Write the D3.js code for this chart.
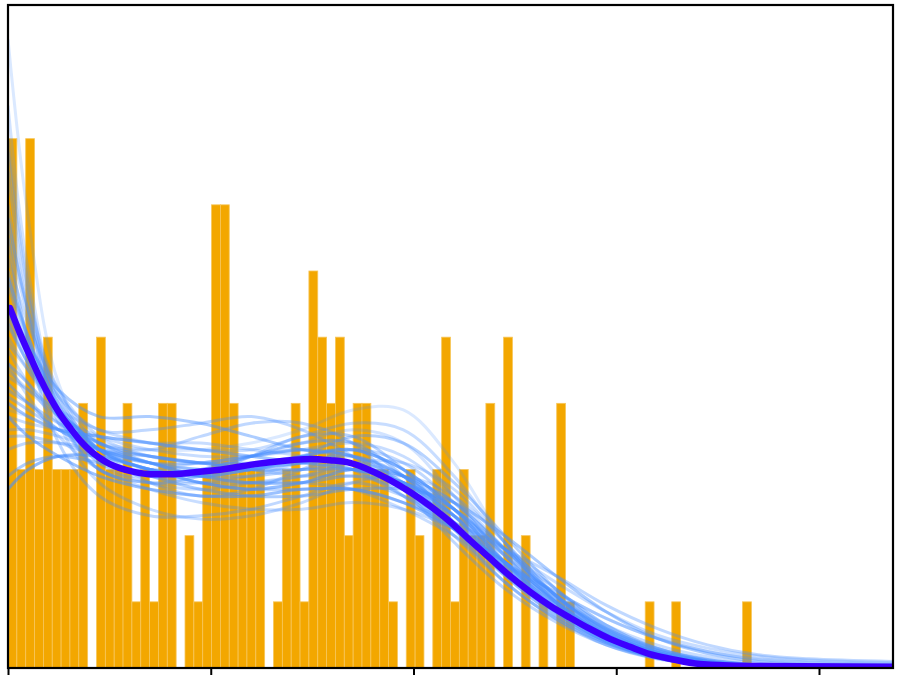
<!DOCTYPE html>
<html>
<head>
<meta charset="utf-8">
<script src="https://cdn.jsdelivr.net/npm/d3@7"></script>
<style>
  html, body { margin: 0; padding: 0; background: #fff; }
  svg { display: block; }
</style>
</head>
<body>
<svg id="chart" width="906" height="675"></svg>
<script>
// ---------------- DATA ----------------
const xDomain = [0, 4.365];
const yDomain = [0, 10.02];
const binWidth = 0.04365;
// histogram counts per bin (bins start at 0, width = binWidth)
const binCounts = [
  8,3,8,3,5,3,3,3,4,0,
  5,3,3,4,1,3,1,4,4,0,
  2,1,3,7,7,4,3,3,3,0,
  1,3,4,1,6,5,4,5,2,4,
  4,3,3,1,0,3,2,0,3,5,
  1,3,2,2,4,0,5,0,2,0,
  1,0,4,1,0,0,0,0,0,0,
  0,0,1,0,0,1,0,0,0,0,
  0,0,0,1
];
const xTicks = [0, 1, 2, 3, 4];

// main density curve (x, y in count units)
const mainX = [0.01,0.059,0.109,0.158,0.207,0.256,0.306,0.355,0.404,0.454,0.503,0.552,0.626,0.700,0.799,0.898,0.996,1.095,1.194,1.292,1.391,1.490,1.588,1.687,1.785,1.884,1.983,2.081,2.180,2.279,2.377,2.476,2.575,2.673,2.772,2.871,2.969,3.068,3.166,3.265,3.413,3.660,3.906,4.365];
const mainY = [5.44,5.06,4.71,4.38,4.09,3.84,3.63,3.44,3.29,3.17,3.08,3.02,2.96,2.93,2.93,2.95,2.98,3.02,3.07,3.11,3.14,3.16,3.14,3.10,2.99,2.84,2.66,2.45,2.21,1.93,1.66,1.39,1.15,0.94,0.76,0.59,0.44,0.32,0.21,0.14,0.06,0.03,0.025,0.02];

// bootstrap density curves, sampled on bootX
const bootX = [0, 0.1, 0.25, 0.45, 0.7, 0.95, 1.2, 1.45, 1.7, 1.95, 2.2, 2.45, 2.7, 2.95, 3.2, 3.45, 3.7, 3.95, 4.365];
const boot01 = [9.5,6.8,4.3,3.2,2.9,2.9,3.0,3.1,3.0,2.6,2.1,1.5,0.9,0.45,0.2,0.07,0.02,0.005,0];
const boot02 = [8.5,6.0,4.0,3.1,3.0,3.1,3.2,3.3,3.1,2.6,2.0,1.4,0.85,0.4,0.17,0.06,0.02,0.005,0];
const boot03 = [7.5,5.6,4.2,3.4,3.1,3.0,3.0,3.1,3.2,2.9,2.3,1.55,0.9,0.45,0.2,0.07,0.02,0.006,0];
const boot04 = [6.8,5.4,4.1,3.3,3.0,3.0,3.2,3.4,3.4,2.9,2.1,1.3,0.75,0.35,0.14,0.05,0.015,0.004,0];
const boot05 = [6.2,5.2,4.2,3.5,3.2,3.1,3.0,3.0,3.0,2.8,2.3,1.6,1.0,0.5,0.22,0.08,0.03,0.01,0.002];
const boot06 = [5.8,4.9,4.1,3.6,3.6,3.7,3.8,3.6,3.2,2.7,2.0,1.3,0.75,0.38,0.16,0.06,0.02,0.005,0];
const boot07 = [5.2,4.6,3.9,3.4,3.2,3.1,3.1,3.2,3.3,3.0,2.4,1.6,0.95,0.5,0.24,0.1,0.04,0.015,0.003];
const boot08 = [4.8,4.3,3.7,3.3,3.2,3.1,3.0,2.9,2.9,2.7,2.3,1.8,1.3,0.85,0.5,0.3,0.18,0.12,0.08];
const boot09 = [4.5,4.2,3.8,3.5,3.3,3.2,3.2,3.3,3.4,3.2,2.6,1.8,1.05,0.5,0.2,0.07,0.02,0.005,0];
const boot10 = [4.3,4.0,3.6,3.3,3.1,2.9,2.8,2.8,2.9,2.8,2.4,1.7,1.0,0.5,0.22,0.08,0.03,0.01,0.002];
const boot11 = [4.9,4.5,3.9,3.3,2.8,2.6,2.7,3.0,3.3,3.1,2.5,1.7,1.0,0.5,0.22,0.08,0.03,0.01,0.002];
const boot12 = [4.0,3.8,3.6,3.5,3.4,3.3,3.2,3.1,3.0,2.8,2.4,1.8,1.2,0.65,0.3,0.12,0.04,0.015,0.003];
const boot13 = [3.6,3.6,3.5,3.3,3.1,2.9,2.8,2.9,3.1,3.1,2.7,1.9,1.1,0.55,0.23,0.08,0.025,0.007,0.001];
const boot14 = [3.5,3.5,3.4,3.2,3.0,2.8,2.7,2.7,2.7,2.5,2.2,1.8,1.4,0.95,0.6,0.35,0.2,0.14,0.1];
const boot15 = [2.7,3.0,3.2,3.2,3.0,2.8,2.7,2.8,3.0,2.9,2.5,1.8,1.1,0.55,0.24,0.09,0.03,0.01,0.002];
const boot16 = [6.5,4.9,3.4,2.6,2.3,2.3,2.4,2.6,2.8,2.6,2.2,1.6,1.0,0.55,0.26,0.1,0.035,0.01,0.002];
const boot17 = [7.0,5.4,3.7,2.8,2.4,2.25,2.3,2.5,2.8,2.9,2.6,1.9,1.1,0.5,0.2,0.07,0.02,0.005,0];
const boot18 = [5.5,4.9,4.2,3.8,3.8,3.7,3.5,3.3,3.2,2.9,2.3,1.5,0.85,0.4,0.16,0.05,0.015,0.004,0];
const boot19 = [4.4,4.2,3.9,3.6,3.4,3.3,3.3,3.5,3.7,3.6,2.9,1.9,1.0,0.45,0.18,0.06,0.02,0.005,0];
const boot20 = [3.9,3.8,3.6,3.4,3.3,3.3,3.4,3.6,3.9,3.9,3.1,1.9,1.0,0.45,0.18,0.06,0.02,0.005,0];
const boot21 = [6.0,5.0,3.8,3.0,2.8,2.9,3.2,3.5,3.5,3.0,2.2,1.4,0.8,0.4,0.17,0.06,0.02,0.005,0];
const boot22 = [5.0,4.5,3.8,3.2,2.9,2.8,2.8,2.8,2.7,2.4,2.0,1.55,1.15,0.75,0.45,0.25,0.13,0.08,0.05];
const boot23 = [8.0,5.8,3.9,3.0,2.8,2.8,2.9,3.1,3.2,2.9,2.2,1.4,0.8,0.38,0.15,0.05,0.015,0.004,0];
const boot24 = [4.6,4.3,3.8,3.3,3.0,2.9,3.0,3.2,3.3,3.0,2.4,1.6,0.9,0.42,0.18,0.06,0.02,0.005,0];
const boot25 = [3.8,3.7,3.6,3.5,3.4,3.4,3.3,3.2,3.0,2.6,2.1,1.6,1.15,0.75,0.45,0.25,0.14,0.09,0.06];
const boot26 = [5.4,4.7,3.9,3.3,3.1,3.1,3.2,3.3,3.2,2.8,2.2,1.55,0.95,0.48,0.2,0.07,0.02,0.005,0];
const boot27 = [6.6,5.3,3.9,3.1,2.8,2.7,2.8,2.9,3.0,2.8,2.3,1.6,1.0,0.52,0.24,0.09,0.03,0.01,0.002];
const boot28 = [4.2,4.0,3.7,3.4,3.1,2.9,2.9,3.0,3.1,2.9,2.4,1.75,1.1,0.58,0.26,0.1,0.035,0.01,0.002];
const boot29 = [5.9,5.0,4.0,3.3,3.0,2.9,3.0,3.1,3.1,2.7,2.1,1.45,0.9,0.45,0.2,0.07,0.02,0.005,0];
const boot30 = [3.3,3.4,3.4,3.3,3.2,3.1,3.0,3.0,3.0,2.8,2.3,1.7,1.1,0.6,0.28,0.11,0.04,0.012,0.003];
const boot31 = [3.8,3.5,3.2,2.9,2.7,2.6,2.6,2.7,2.7,2.5,2.1,1.6,1.05,0.6,0.3,0.13,0.05,0.02,0.005];
const boot32 = [4.6,4.1,3.5,3.0,2.7,2.5,2.4,2.4,2.5,2.4,2.1,1.6,1.1,0.65,0.35,0.17,0.07,0.03,0.01];
const boot33 = [5.3,4.6,3.9,3.4,3.3,3.5,3.7,3.7,3.4,2.7,1.9,1.2,0.7,0.35,0.15,0.05,0.015,0.004,0];
const boot34 = [7.8,5.7,3.8,3.0,2.9,3.0,3.2,3.4,3.6,3.4,2.6,1.6,0.85,0.4,0.16,0.05,0.015,0.004,0];
const boot35 = [4.1,3.9,3.6,3.3,3.1,3.0,3.0,3.2,3.5,3.4,2.8,2.0,1.2,0.6,0.26,0.1,0.03,0.01,0.002];
const boot36 = [2.9,3.1,3.2,3.1,2.9,2.7,2.6,2.6,2.7,2.7,2.5,2.0,1.4,0.85,0.45,0.22,0.1,0.05,0.02];
const bootSeries = [boot01,boot02,boot03,boot04,boot05,boot06,boot07,boot08,boot09,boot10,
  boot11,boot12,boot13,boot14,boot15,boot16,boot17,boot18,boot19,boot20,
  boot21,boot22,boot23,boot24,boot25,boot26,boot27,boot28,boot29,boot30,
  boot31,boot32,boot33,boot34,boot35,boot36];
const bootOpacity = [0.2,0.25,0.3,0.45,0.3,0.35,0.5,0.3,0.3,0.45,0.35,0.5,0.3,0.35,0.6,0.35,0.3,0.45,0.3,0.2,0.4,0.3,0.3,0.45,0.3,0.5,0.3,0.4,0.5,0.35,0.55,0.3,0.35,0.25,0.4,0.45];

// ---------------- DRAW ----------------
const svg = d3.select("#chart");
const pLeft = 8, pRight = 893, pTop = 5, pBottom = 668;

const x = d3.scaleLinear().domain(xDomain).range([pLeft, pRight]);
const y = d3.scaleLinear().domain(yDomain).range([pBottom, pTop]);

svg.append("defs").append("clipPath").attr("id", "plotclip")
  .append("rect").attr("x", pLeft).attr("y", pTop)
  .attr("width", pRight - pLeft).attr("height", pBottom - pTop);

const plot = svg.append("g").attr("clip-path", "url(#plotclip)");

// histogram bars
plot.append("g").selectAll("rect")
  .data(binCounts.map((c, i) => ({x0: i * binWidth, x1: (i + 1) * binWidth, c})))
  .join("rect")
  .attr("x", d => x(d.x0))
  .attr("width", d => x(d.x1) - x(d.x0))
  .attr("y", d => y(d.c))
  .attr("height", d => y(0) - y(d.c))
  .attr("fill", "#f3a700")
  .attr("stroke", "#f7c65a")
  .attr("stroke-width", 0.8);

// bootstrap curves
const bootLine = d3.line()
  .x(d => x(d[0])).y(d => y(d[1]))
  .curve(d3.curveCatmullRom.alpha(0.5));

plot.append("g").selectAll("path")
  .data(bootSeries)
  .join("path")
  .attr("d", s => bootLine(s.map((v, i) => [bootX[i], v])))
  .attr("fill", "none")
  .attr("stroke", "#4a90ff")
  .attr("stroke-width", 3)
  .attr("stroke-opacity", (s, i) => bootOpacity[i]);

// main curve
const mainLine = d3.line()
  .x(d => x(d[0])).y(d => y(d[1]))
  .curve(d3.curveMonotoneX);
plot.append("path")
  .attr("d", mainLine(mainX.map((v, i) => [v, mainY[i]])))
  .attr("fill", "none")
  .attr("stroke", "#3c00ff")
  .attr("stroke-width", 6.5)
  .attr("stroke-linecap", "round");

// bottom ticks
const xAxis = d3.axisBottom(x).tickValues(xTicks).tickSize(10).tickFormat("");
const ax = svg.append("g").attr("transform", `translate(0,${pBottom})`).call(xAxis);
ax.select(".domain").remove();
ax.selectAll(".tick line").attr("stroke", "#000").attr("stroke-width", 2);

// frame
svg.append("rect")
  .attr("x", pLeft).attr("y", pTop)
  .attr("width", pRight - pLeft).attr("height", pBottom - pTop)
  .attr("fill", "none").attr("stroke", "#000").attr("stroke-width", 2.2);
</script>
</body>
</html>
